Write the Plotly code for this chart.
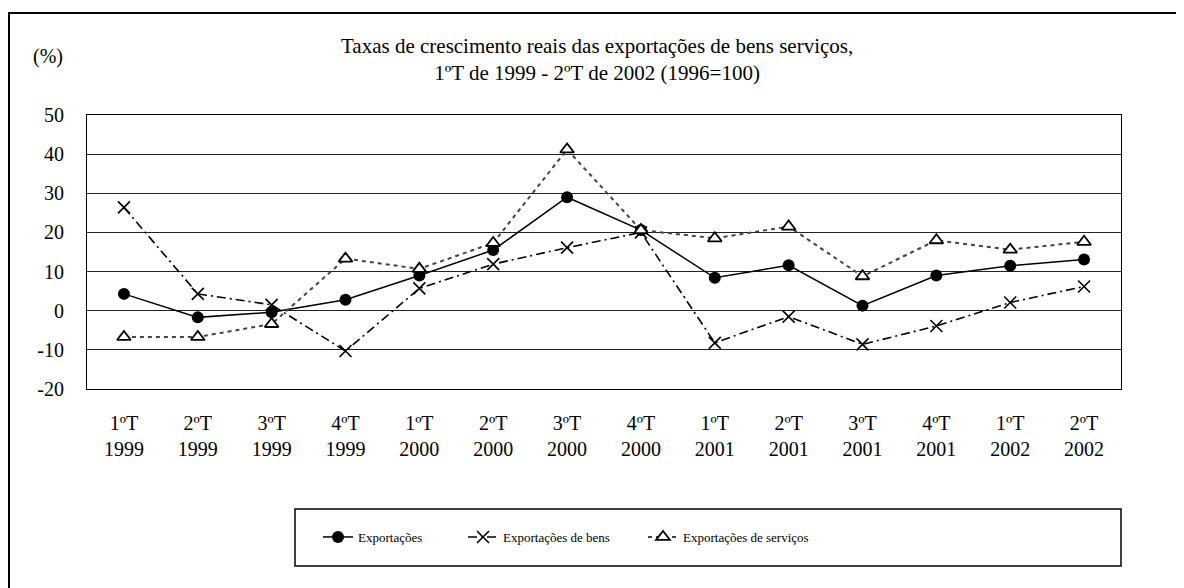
import plotly.graph_objects as go

quarters = ["1ºT", "2ºT", "3ºT", "4ºT", "1ºT", "2ºT", "3ºT", "4ºT", "1ºT", "2ºT", "3ºT", "4ºT", "1ºT", "2ºT"]
years = ["1999", "1999", "1999", "1999", "2000", "2000", "2000", "2000", "2001", "2001", "2001", "2001", "2002", "2002"]
categories = [f"{q}<br>{y}" for q, y in zip(quarters, years)]

exportacoes = [4.3, -1.7, -0.4, 2.8, 9.0, 15.5, 29.0, 20.6, 8.4, 11.6, 1.3, 9.0, 11.5, 13.1]
exp_bens = [26.4, 4.3, 1.5, -10.3, 5.7, 11.9, 16.1, 20.0, -8.2, -1.5, -8.6, -3.9, 2.1, 6.2]
exp_servicos = [-6.7, -6.7, -3.4, 13.3, 10.7, 17.3, 41.2, 20.6, 18.5, 21.5, 8.8, 18.0, 15.6, 17.6]

y_ticks = [-20, -10, 0, 10, 20, 30, 40, 50]
y_ticktext = ["-20", "-10", "0", "10", "20", "30", "40", "50"]

FONT = "Liberation Serif"

# page offset (body margin of the html page)
OFF = 8
W, H = 1184, 588
PL, PR, PT, PB = 87, 1121, 115, 389  # plot area in page pixels


def px(xp):
    return (xp - PL) / (PR - PL)


def py(yp):
    return (PB - yp) / (PB - PT)


fig = go.Figure()
fig.add_trace(go.Scatter(
    x=categories, y=exportacoes, name="Exportações", mode="lines+markers",
    line=dict(color="black", width=1.5),
    marker=dict(symbol="circle", size=12, color="black"),
    legend="legend",
))
fig.add_trace(go.Scatter(
    x=categories, y=exp_bens, name="Exportações de bens", mode="lines+markers",
    line=dict(color="black", width=1.6, dash="9px,4px,2px,4px"),
    marker=dict(symbol="x-thin-open", size=12, color="black", line=dict(width=1.6, color="black")),
    legend="legend2",
))
fig.add_trace(go.Scatter(
    x=categories, y=exp_servicos, name="Exportações de serviços", mode="lines+markers",
    line=dict(color="#444444", width=2, dash="4px,4px"),
    marker=dict(symbol="triangle-up", size=12, color="white", line=dict(width=1.8, color="black")),
    legend="legend3",
))

leg_common = dict(orientation="h", yanchor="middle", y=py(537), xanchor="left",
                  font=dict(family=FONT, size=13, color="black"),
                  bgcolor="rgba(0,0,0,0)", borderwidth=0)

fig.update_layout(
    width=W, height=H,
    margin=dict(l=PL - OFF, r=W - (PR - OFF), t=PT - OFF, b=H - (PB - OFF)),
    paper_bgcolor="white", plot_bgcolor="white",
    font=dict(family=FONT, size=20, color="black"),
    showlegend=True,
    legend=dict(x=px(318), **leg_common),
    legend2=dict(x=px(463), **leg_common),
    legend3=dict(x=px(643), **leg_common),
    xaxis=dict(
        type="category", range=[-0.5, 13.5],
        showgrid=False, showline=True, mirror=True, linecolor="black", linewidth=1,
        ticks="", ticklabelstandoff=16,
        tickfont=dict(family=FONT, size=20, color="black"),
    ),
    yaxis=dict(
        range=[-20, 50], tickvals=y_ticks, ticktext=y_ticktext,
        showgrid=True, gridcolor="#222222", gridwidth=1,
        zeroline=False,
        showline=True, mirror=True, linecolor="black", linewidth=1,
        ticks="", ticklabelstandoff=18,
        tickfont=dict(family=FONT, size=20, color="black"),
    ),
    annotations=[
        dict(text="Taxas de crescimento reais das exportações de bens serviços,<br>1ºT de 1999 - 2ºT de 2002 (1996=100)",
             xref="paper", yref="paper", x=px(597), y=py(60), xanchor="center", yanchor="middle",
             showarrow=False, font=dict(family=FONT, size=21, color="black")),
        dict(text="(%)", xref="paper", yref="paper", x=px(48), y=py(57),
             xanchor="center", yanchor="middle", showarrow=False,
             font=dict(family=FONT, size=20, color="black")),
    ],
    shapes=[
        dict(type="rect", xref="paper", yref="paper",
             x0=px(9), x1=px(1200), y0=py(610), y1=py(13),
             line=dict(color="black", width=2), fillcolor="rgba(0,0,0,0)", layer="below"),
        dict(type="rect", xref="paper", yref="paper",
             x0=px(295), x1=px(1121), y0=py(566), y1=py(509),
             line=dict(color="black", width=1.5), fillcolor="rgba(0,0,0,0)", layer="below"),
    ],
)

fig.write_html("out.html")
